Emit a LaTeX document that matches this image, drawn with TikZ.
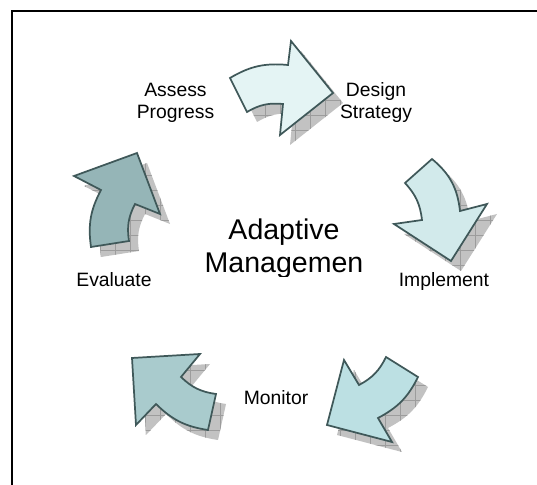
\documentclass[tikz,border=0pt]{standalone}
\usepackage{fontspec}
\setmainfont{Liberation Sans}
\usetikzlibrary{positioning}
\definecolor{edge}{HTML}{3F5859}
\definecolor{fillA}{HTML}{E4F4F4}
\definecolor{fillB}{HTML}{D2EAEB}
\definecolor{fillC}{HTML}{BCE0E3}
\definecolor{fillD}{HTML}{A9CBCD}
\definecolor{fillE}{HTML}{95B5B7}
\definecolor{shadowgray}{HTML}{C2C2C2}
\definecolor{gridgray}{HTML}{9C9C9C}
\tikzset{
  cyc/.style={draw=edge, line width=1.3pt, line join=miter},
  shadowfill/.style={fill=shadowgray},
  shadowgrid/.style={draw=gridgray, line width=0.5pt, step=11.25pt},
  frame/.style={draw=black, line width=1.6pt},
  lbl/.style={font=\fontsize{14.5}{16.3}\selectfont, align=center, inner sep=0pt},
  title/.style={font=\fontsize{21.4}{24.75}\selectfont, align=center, inner sep=0pt}
}
\newcommand{\castshadow}[1]{%
  \begin{scope}[shift={(10,10)}]
    \clip #1;
    \fill[shadowfill] (-20,-20) rectangle (560,500);
    \draw[shadowgrid] (-30,510) grid (570,-30);
  \end{scope}}
% the five curved arrows of the cycle
\def\pathA{(247,112) to[bend left=18] (283,104) -- (280,135) -- (333,93) -- (291,41) -- (288,65) to[bend right=18] (230,78) -- cycle}
\def\pathB{(405,183) to[bend left=18] (422,220) -- (394,224) -- (451,261) -- (487,204) -- (460,211) to[bend right=22] (432,159) -- cycle}
\def\pathC{(386,357) to[bend left=18] (359,385) -- (344,360) -- (327,425) -- (392,442) -- (378,418) to[bend right=18] (418,377) -- cycle}
\def\pathD{(216,394) to[bend left=18] (181,377) -- (200,354) -- (132,358) -- (136,425) -- (156,404) to[bend right=18] (208,430) -- cycle}
\def\pathE{(129,241) to[bend left=18] (135,204) -- (160,214) -- (137,153) -- (74,176) -- (101,190) to[bend right=18] (91,247) -- cycle}
\begin{document}
\begin{tikzpicture}[x=0.75pt, y=-0.75pt]
\useasboundingbox (0,0) rectangle (537,485);
\fill[white] (0,0) rectangle (537,485);
\draw[frame] (12,485) -- (12,11) -- (537,11);
\foreach \p/\c in {\pathA/fillA,\pathB/fillB,\pathC/fillC,\pathD/fillD,\pathE/fillE}{
  \castshadow{\p}
  \draw[cyc, fill=\c] \p;
}
\begin{scope}
  \clip (150,200) rectangle (420,277);
  \node[title] (hub) at (284,249) {Adaptive\\Managemen};
\end{scope}
\node[lbl] (assess) at (175.5,102.7) {Assess\\Progress};
\node[lbl] (design) at (376,102.5) {Design\\Strategy};
\node[lbl] (implement) at (444,282) {Implement};
\node[lbl] (monitor) at (276,398) {Monitor};
\node[lbl] (evaluate) at (114,280) {Evaluate};
\end{tikzpicture}
\end{document}
